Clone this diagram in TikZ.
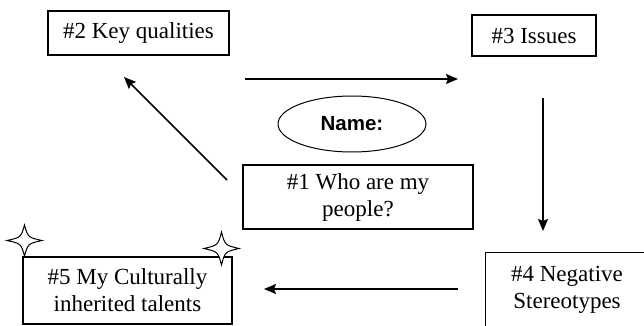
\documentclass[tikz,border=0pt]{standalone}
\usepackage{fontspec}
\setmainfont{Liberation Serif}
\newfontfamily\arialfont{Liberation Sans}
\usetikzlibrary{arrows.meta,shapes.geometric}
\tikzset{
  boxnode/.style={draw, line width=1.1pt, fill=white, inner sep=0pt, align=center,
    font=\fontsize{23}{27}\selectfont},
  arr/.style={line width=1.5pt, -{Stealth[length=12pt,width=10pt,inset=2pt]}},
  starshape/.style={draw, line width=1pt, fill=white}
}
% \fourstar{cx}{cy}{rx}{ry}
\newcommand{\fourstar}[4]{%
  \path[starshape] (#1+#3,#2) .. controls (#1+0.2*#3,#2+0.2*#4) .. (#1,#2+#4)
    .. controls (#1-0.2*#3,#2+0.2*#4) .. (#1-#3,#2)
    .. controls (#1-0.2*#3,#2-0.2*#4) .. (#1,#2-#4)
    .. controls (#1+0.2*#3,#2-0.2*#4) .. cycle;}
\begin{document}
\begin{tikzpicture}[x=1pt,y=-1pt]
\useasboundingbox (0,0) rectangle (644,326);
\clip (0,0) rectangle (644,326);
% boxes
\node[boxnode, minimum width=181pt, minimum height=44pt] (n2) at (138.5,33) {\#2 Key qualities};
\node[boxnode, minimum width=124pt, minimum height=41pt] (n3) at (534,35.5) {\#3 Issues};
\node[boxnode, minimum width=230pt, minimum height=64pt] (n1) at (358,197) {\#1 Who are my\\people?};
\node[boxnode, minimum width=209pt, minimum height=67pt] (n5) at (127.5,290.5) {\#5 My Culturally\\inherited talents};
\node[boxnode, minimum width=220pt, minimum height=120pt, anchor=north west] (n4) at (485,252) {};
\node[align=center, inner sep=0pt, font=\fontsize{23}{27}\selectfont] (t4) at (567,290) {\#4 Negative\\Stereotypes};
% ellipse
\node[draw, ellipse, line width=1pt, minimum width=148pt, minimum height=56pt, inner sep=0pt,
  font=\arialfont\bfseries\fontsize{20.5}{24}\selectfont] (nm) at (352,124) {Name:};
% stars
\fourstar{24.5}{240.5}{17.5}{15.5}
\fourstar{221.5}{248.5}{17.5}{16.5}
% arrow end points
\coordinate (a1s) at (245,79);
\coordinate (a1e) at (458,79);
\coordinate (a2s) at (543,98);
\coordinate (a2e) at (543,231);
\coordinate (a3s) at (458,289);
\coordinate (a3e) at (264,289);
\coordinate (a4s) at (227,180);
\coordinate (a4e) at (124,77);
\draw[arr] (a1s) -- (a1e);
\draw[arr] (a2s) -- (a2e);
\draw[arr] (a3s) -- (a3e);
\draw[arr] (a4s) -- (a4e);
\end{tikzpicture}
\end{document}
